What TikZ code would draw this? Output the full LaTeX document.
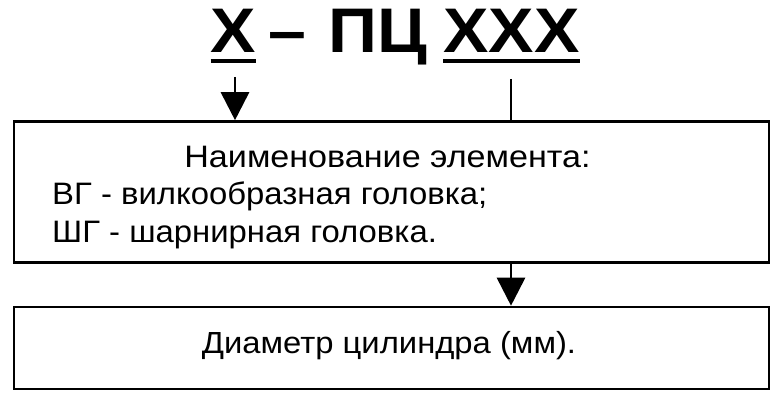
\documentclass[tikz,border=0pt]{standalone}
\usepackage{fontspec}
\setmainfont{Liberation Sans}
\newfontfamily\wideA[FakeStretch=1.10]{Liberation Sans}
\newfontfamily\wideB[FakeStretch=1.06]{Liberation Sans}
\newfontfamily\wideC[FakeStretch=1.075]{Liberation Sans}
\newfontfamily\wideT[FakeStretch=1.08]{Liberation Sans}
\usetikzlibrary{arrows.meta}
\begin{document}
\begin{tikzpicture}[x=1pt,y=-1pt,
  box/.style={draw,line width=2.6pt,minimum width=755pt,inner sep=0pt},
  txt/.style={inner sep=0pt},
  ttl/.style={inner sep=0pt,anchor=base,font=\wideT\fontsize{63}{63}\selectfont\bfseries},
  conn/.style={line width=2.8pt},
  arr/.style={conn,-{Triangle[width=28pt,length=28pt]}}]
\useasboundingbox[fill=white] (0,0) rectangle (778,401);
% boxes
\node[box,minimum height=141pt] (top) at (391.5,192) {};
\node[box,minimum height=82pt] (bot) at (391.5,348) {};
% title
\node[ttl] (t1) at (233.5,53) {Х};
\node[ttl] (t2) at (287.5,53) {–};
\node[ttl] (t2b) at (377.5,53) {ПЦ};
\node[ttl] (t3) at (511.5,53) {ХХХ};
\draw[line width=4.5pt] ([yshift=-8pt]t1.base west) -- ([yshift=-8pt]t1.base east);
\draw[line width=4.5pt] ([yshift=-8pt]t3.base west) -- ([yshift=-8pt]t3.base east);
% texts
\node[txt,anchor=base,font=\wideA\fontsize{31}{38}\selectfont] (l1) at (387.5,167) {Наименование элемента:};
\node[txt,anchor=base west,font=\wideB\fontsize{31}{38}\selectfont] (l2) at (52,204) {ВГ - вилкообразная головка;};
\node[txt,anchor=base west,font=\wideB\fontsize{31}{38}\selectfont] (l3) at (52,242) {ШГ - шарнирная головка.};
\node[txt,anchor=base,font=\wideC\fontsize{30.5}{38}\selectfont] (l4) at (389,353) {Диаметр цилиндра (мм).};
% connectors
\coordinate (a1) at (235,77);
\coordinate (a2) at (511,79);
\draw[arr] (a1) -- (a1 |- top.north);
\draw[conn] (a2) -- (a2 |- top.north);
\draw[arr] (a2 |- top.south) -- (a2 |- bot.north);
\end{tikzpicture}
\end{document}
